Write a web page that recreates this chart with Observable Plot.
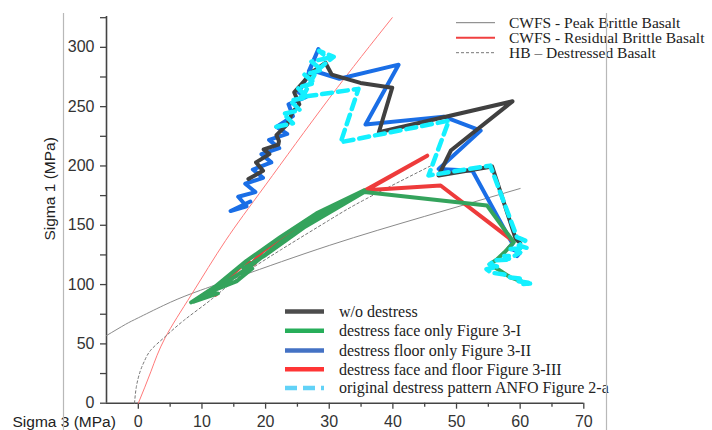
<!DOCTYPE html>
<html><head><meta charset="utf-8">
<script src="https://cdn.jsdelivr.net/npm/d3@7"></script>
<script src="https://cdn.jsdelivr.net/npm/@observablehq/plot@0.6"></script>
<style>
body{margin:0;background:#fff;}
#wrap{position:relative;width:712px;height:430px;overflow:hidden;background:#fff;}
#wrap svg{display:block;}
</style></head><body><div id="wrap"></div>
<script>
// ---- axis ticks ----
const xTicks = [0,10,20,30,40,50,60,70];
const xMinor = [5,15,25,35,45,55,65];
const yTicks = [0,50,100,150,200,250,300];
const yMinor = [25,75,125,175,225,275,325];

// ---- thin reference curves ----
const peakS3 = [-5,-2,0,4,8.4,16,30,45,60];
const peakS1 = [57,66.5,72,82.5,92.5,107,133,157.5,181];
const resS3 = [0,2,4.2,8.4,13.7,20,30,39.9];
const resS1 = [0,27,55,92,137,184,257,325];
const hbS3 = [-0.6,-0.3,0.3,1,2,4.2,7.2,11.6,15.5,22.3,30.2,35.7,45.9];
const hbS1 = [0,14,27,36,45,56,70,88,105,129,155,172,200];

// ---- stress paths (sigma3, sigma1) ----
const grayS3 = [17.3,19.6,18.5,20.6,19.7,22.0,22.1,21.7,23.4,24.2,25.3,24.5,27.3,29.4,30.4,34.9,39.9,37.8,58.8,49.1,47.2,55.6,59.3,60.0];
const grayS1 = [189,196,203,210,214,218,221,226,235,245,252,262,279,287,277,270,266,228.4,254.5,213,192,199.5,138.5,135];

const blueS3 = [17.6,14.5,17.0,15.7,18.4,16.8,19.6,18.0,20.9,19.35,22.15,20.55,23.4,21.7,24.3,23.6,26.3,25.2,26.5,28.3,26.8,28.3,31.6,40.9,35.7,48.0,53.8,47.2,52.5,58.8,58.2,60.0,59.5];
const blueS1 = [170,162,166,174,178,185,190,197,203,210,215,222,227,233,242,252,258,262,275,298.6,280,279,273.5,285.4,234.9,241.6,229.8,197.5,196,134.3,131,127,124];

const redS3 = [8.8,11.3,12.2,11.0,13.0,16.8,18.3,17.5,19.5,25,30,35.5,45.4,35.8,47.5,58.8];
const redS1 = [86,95,91.5,92,100,118.5,118,115.5,128,148,163,179,208.7,179.5,183.5,137.1];

const greenS3 = [8.3,12,17,22.3,28,35.5,28,22.3,17.5,13,8.6,12.5,11,15.5,17.9,16.5,20,26,35.5,54.8,59.0,57.5,56.3,55.2,56.5,58.5,60.5,61.2];
const greenS1 = [85,98,120,140,160,179.5,156.5,135.5,115,99,85.5,92.5,93.5,103,113.5,113.5,125,148,178,166.6,135.7,127,121,117,113,106,102,101];

const cyanS3 = [21.7,24.3,22.8,25.4,23.9,26.5,25.0,27.7,26.1,28.8,27.2,29.8,28.4,30.7,29.3,28.0,26.2,25.5,34.6,31.8,48.8,45.6,55.3,59.5,60.8,59.8,61.0,58.5,60.0,59.0,57.5,58.5,56.0,55.2,56.5,54.7,55.5,57.5,58.5,60.0,59.5,61.9,60.5];
const cyanS1 = [233,236,244,247,255,258,266,270,277,281,288,291,297,292,286,280,262,258,265,220,238.2,192,200.3,140,137,133,131,130,127,124,124,121,120.5,117,115,113,110,108.5,106,105,103,101,100.5];

// ---- legend labels ----
const topLegend = ["CWFS - Peak Brittle Basalt","CWFS - Residual Brittle Basalt","HB \u2013 Destressed Basalt"];
const bottomLegend = ["w/o destress","destress face only Figure 3-I","destress floor only Figure 3-II","destress face and floor Figure 3-III","original destress pattern ANFO Figure 2-a"];

const pts = (a, b) => a.map((x, i) => ({x, y: b[i]}));
const thick = {strokeWidth: 4, strokeLinejoin: "round", strokeLinecap: "round"};

const chart = Plot.plot({
  width: 712, height: 430,
  marginLeft: 106, marginRight: 128.7, marginTop: 16, marginBottom: 27.3,
  style: {fontFamily: "'Liberation Sans', Arial, sans-serif", fontSize: "16px", color: "#333", background: "transparent", overflow: "visible"},
  x: {domain: [-5, 70], label: null},
  y: {domain: [0, 326], label: null},
  marks: [
    Plot.axisX(xTicks, {tickSize: 6, tickPadding: 6, tickFormat: d => d, stroke: "#444", strokeWidth: 1.3}),
    Plot.axisX(xMinor, {tickSize: 4, tickFormat: () => "", stroke: "#444", strokeWidth: 1.3}),
    Plot.axisY(yTicks, {tickSize: 6, tickPadding: 6, tickFormat: d => d, stroke: "#444", strokeWidth: 1.3}),
    Plot.axisY(yMinor, {tickSize: 6, tickFormat: () => "", stroke: "#444", strokeWidth: 1.3}),
    Plot.ruleY([0], {stroke: "#444", strokeWidth: 1.6}),
    Plot.ruleX([-5], {stroke: "#444", strokeWidth: 1.6}),
    Plot.line(pts(peakS3, peakS1), {x: "x", y: "y", stroke: "#8a8a8a", strokeWidth: 1, curve: "natural"}),
    Plot.line(pts(resS3, resS1), {x: "x", y: "y", stroke: "#ff7a7a", strokeWidth: 1, curve: "natural"}),
    Plot.line(pts(hbS3, hbS1), {x: "x", y: "y", stroke: "#777", strokeWidth: 1, strokeDasharray: "2.5,2.5", curve: "natural"}),
    Plot.line(pts(blueS3, blueS1), {x: "x", y: "y", stroke: "#1a6ee6", ...thick}),
    Plot.line(pts(grayS3, grayS1), {x: "x", y: "y", stroke: "#404040", ...thick}),
    Plot.line(pts(redS3, redS1), {x: "x", y: "y", stroke: "#ee3b3b", ...thick}),
    Plot.line(pts(greenS3, greenS1), {x: "x", y: "y", stroke: "#34a35c", ...thick}),
    Plot.line(pts(cyanS3, cyanS1), {x: "x", y: "y", stroke: "#14f0ff", strokeWidth: 4.5, strokeDasharray: "10,6", strokeLinejoin: "round"}),
    Plot.text(["Sigma 3 (MPa)"], {frameAnchor: "bottom-left", dx: -94, dy: 19, textAnchor: "start", lineAnchor: "middle", fontSize: 15.5, fill: "#222"}),
    Plot.text(["Sigma 1 (MPa)"], {frameAnchor: "left", dx: -56, dy: -21, rotate: -90, textAnchor: "middle", lineAnchor: "middle", fontSize: 15.5, fill: "#222"})
  ]
});

const wrap = document.getElementById("wrap");
wrap.appendChild(chart);

// ---- legends drawn into the svg ----
const svg = d3.select(chart);
const serif = "'Liberation Serif','Times New Roman',serif";
const topStyles = [
  {stroke: "#7a7a7a", w: 1, dash: null},
  {stroke: "#f04040", w: 2, dash: null},
  {stroke: "#777", w: 1, dash: "3,2"}
];
const topY = [22.7, 37.7, 52.7];
const gTop = svg.append("g").attr("text-anchor", "start");
topLegend.forEach((t, i) => {
  gTop.append("line").attr("x1", 456).attr("x2", 495).attr("y1", topY[i]).attr("y2", topY[i])
    .attr("stroke", topStyles[i].stroke).attr("stroke-width", topStyles[i].w)
    .attr("stroke-dasharray", topStyles[i].dash);
  gTop.append("text").attr("x", 509).attr("y", topY[i]).attr("dy", "0.33em").attr("text-anchor", "start")
    .attr("font-family", serif).attr("font-size", 15.5).attr("fill", "#222").text(t);
});
const botStyles = [
  {stroke: "#4d4d4d", dash: null},
  {stroke: "#27ae5a", dash: null},
  {stroke: "#4472c4", dash: null},
  {stroke: "#ff3535", dash: null},
  {stroke: "#62d2f7", dash: "12,6"}
];
const botY = [311.5, 330.7, 350.5, 369.3, 388];
const gBot = svg.append("g").attr("text-anchor", "start");
bottomLegend.forEach((t, i) => {
  gBot.append("line").attr("x1", 285).attr("x2", 324).attr("y1", botY[i]).attr("y2", botY[i])
    .attr("stroke", botStyles[i].stroke).attr("stroke-width", 4.5)
    .attr("stroke-dasharray", botStyles[i].dash);
  gBot.append("text").attr("x", 339).attr("y", botY[i]).attr("dy", "0.33em").attr("text-anchor", "start")
    .attr("font-family", serif).attr("font-size", 16).attr("fill", "#222").text(t);
});

// frame lines of the original figure
const frameG = svg.append("g");
[63.5, 606.5].forEach(xp => {
  frameG.append("line").attr("x1", xp).attr("x2", xp).attr("y1", 13).attr("y2", 430)
    .attr("stroke", "#b8b8b8").attr("stroke-width", 1.2);
});
</script>
</body></html>
